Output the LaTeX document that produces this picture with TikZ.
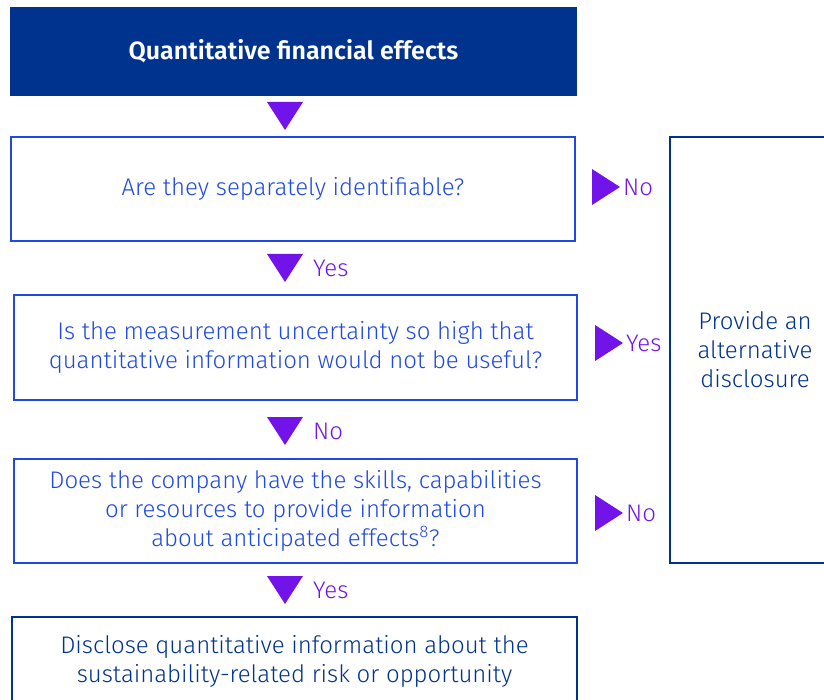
\documentclass[tikz,border=0pt]{standalone}
\usepackage{fontspec}
\setmainfont{Fira Sans Light}[BoldFont={Fira Sans SemiBold}]
\usetikzlibrary{calc}
\definecolor{kpmg_blue}{HTML}{00338D}
\definecolor{cobalt}{HTML}{1E49E2}
\definecolor{tri_purple}{HTML}{7213EA}

\newcommand{\downtri}[1]{\fill[tri_purple] ($(#1)+(-18,-14)$) -- ($(#1)+(18,-14)$) -- ($(#1)+(0,14)$) -- cycle;}
\newcommand{\righttri}[1]{\fill[tri_purple] ($(#1)+(-14,-18)$) -- ($(#1)+(-14,18)$) -- ($(#1)+(14,0)$) -- cycle;}

\tikzset{
	headbox/.style={fill=kpmg_blue, text=white, minimum width=567pt, minimum height=89pt, inner sep=0pt, font=\fontsize{25}{29}\bfseries\selectfont},
	question/.style={draw=cobalt, line width=2pt, text=cobalt, align=center, minimum width=563pt, minimum height=104pt, inner sep=0pt, font=\fontsize{24}{29}\selectfont},
	answer/.style={question, draw=kpmg_blue, text=kpmg_blue},
	yesno/.style={text=tri_purple, anchor=west, inner sep=0pt, font=\fontsize{24}{29}\selectfont}
}

\begin{document}
\begin{tikzpicture}[x=1pt, y=-1pt]
	\useasboundingbox (0,0) rectangle (824,700);
	\clip (0,0) rectangle (824,700);
	% main column
	\node[headbox] (head) at (293.5,51.5) {Quantitative financial effects};
	\node[question, minimum width=564pt] (q1) at (293,189) {Are they separately identifiable?};
	\node[question] (q2) at (295.5,347.5) {Is the measurement uncertainty so high that\\quantitative information would not be useful?};
	\node[question] (q3) at (295.5,511) {Does the company have the skills, capabilities\\or resources to provide information\\about anticipated effects\textsuperscript{8}?};
	\node[answer, minimum width=565pt, minimum height=88pt] (disc) at (294.5,661) {Disclose quantitative information about the\\sustainability-related risk or opportunity};
	% side box
	\node[answer, minimum width=170pt, minimum height=426pt] (alt) at (755,350) {Provide an\\alternative\\disclosure};
	% triangles down
	\coordinate (t1) at (285,116);
	\coordinate (t2) at (285,268);
	\coordinate (t3) at (285,431);
	\coordinate (t4) at (285,590);
	\downtri{t1}
	\downtri{t2}
	\downtri{t3}
	\downtri{t4}
	\node[yesno] (t2l) at ($(t2)+(28,0)$) {Yes};
	\node[yesno] (t3l) at ($(t3)+(28,0)$) {No};
	\node[yesno] (t4l) at ($(t4)+(28,0)$) {Yes};
	% triangles right
	\coordinate (r1) at (606,187);
	\coordinate (r2) at (609,343);
	\coordinate (r3) at (609,513);
	\righttri{r1}
	\righttri{r2}
	\righttri{r3}
	\node[yesno] (r1l) at ($(r1)+(17,0)$) {No};
	\node[yesno] (r2l) at ($(r2)+(17,0)$) {Yes};
	\node[yesno] (r3l) at ($(r3)+(17,0)$) {No};
\end{tikzpicture}
\end{document}
